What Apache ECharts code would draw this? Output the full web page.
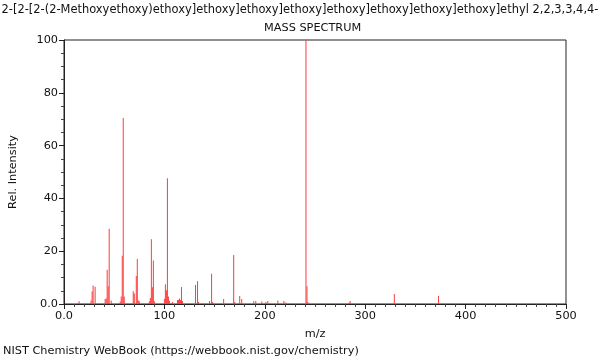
<!DOCTYPE html>
<html><head><meta charset="utf-8">
<script src="https://cdn.jsdelivr.net/npm/echarts@6/dist/echarts.min.js"></script>
<style>html,body{margin:0;padding:0;background:#fff}#c{width:600px;height:360px}</style>
</head><body><div id="c"></div>
<script>
const titleLine1 = "2-[2-[2-(2-Methoxyethoxy)ethoxy]ethoxy]ethoxy]ethoxy]ethoxy]ethoxy]ethoxy]ethoxy]ethyl 2,2,3,3,4,4-";
const titleLine2 = "MASS SPECTRUM";
const footer = "NIST Chemistry WebBook (https://webbook.nist.gov/chemistry)";
const xName = "m/z";
const yName = "Rel. Intensity";
const mz = [15,27,28,29,31,41,42,43,44,45,47,56,57,58,59,60,69,70,72,73,74,75,85,86,87,88,89,90,100,101,102,103,104,105,108,113,114,115,116,117,118,131,133,134,145,147,148,159,169,170,175,177,189,191,197,201,203,213,219,221,241,242,243,284,285,329,373];
const intensity = [1.0,1.3,4.7,7.0,6.5,1.9,2.1,13.0,6.7,28.5,1.3,0.9,2.8,18.3,70.5,2.8,4.8,4.0,10.6,17.0,1.3,1.0,1.0,2.3,24.5,6.3,16.5,1.0,2.0,7.5,5.2,47.6,2.8,1.2,0.8,1.5,1.5,2.1,1.5,6.4,1.1,7.2,8.6,0.8,1.1,11.5,0.8,1.9,18.6,0.8,3.0,1.9,1.0,1.1,0.9,0.8,1.1,1.3,1.1,0.6,100,6.7,0.8,0.5,1.1,3.8,3.0];
const xTicks = [0,100,200,300,400,500];
const yTicks = [0,20,40,60,80,100];

const data = mz.map((m,i)=>[m,intensity[i]]);
const font = 'DejaVu Sans';
const tStyle = {fontFamily:font,fontSize:11.3,fontWeight:'normal',color:'#111'};
const chart = echarts.init(document.getElementById('c'), null, {renderer:'canvas'});
chart.setOption({
  animation:false,
  backgroundColor:'#fff',
  title:[
    {text:titleLine1,left:'center',top:5,padding:0,textStyle:Object.assign({},tStyle,{fontSize:11.45})},
    {text:titleLine2,left:264,top:23,padding:0,textStyle:tStyle},
    {text:footer,left:3,top:346,padding:0,textStyle:tStyle}
  ],
  grid:{left:62,right:34,top:40,bottom:56,show:true,borderColor:'#222',borderWidth:1,backgroundColor:'transparent'},
  xAxis:{
    type:'value',min:xTicks[0],max:xTicks[xTicks.length-1],interval:100,
    name:xName,nameLocation:'middle',nameGap:25,
    nameTextStyle:{fontFamily:font,fontSize:11.3,color:'#111'},
    axisLine:{lineStyle:{color:'#222'}},
    axisTick:{show:true,length:5,lineStyle:{color:'#222'}},
    minorTick:{show:true,splitNumber:10,length:3,lineStyle:{color:'#444'}},
    splitLine:{show:false},
    axisLabel:{fontFamily:font,fontSize:11.3,color:'#111',margin:7,formatter:v=>v===0?'0.0':String(v)}
  },
  yAxis:{
    type:'value',min:yTicks[0],max:yTicks[yTicks.length-1],interval:20,
    name:yName,nameLocation:'middle',nameGap:45,nameRotate:90,
    nameTextStyle:{fontFamily:font,fontSize:11.3,color:'#111'},
    axisLine:{show:true,lineStyle:{color:'#222'}},
    axisTick:{show:true,length:5,lineStyle:{color:'#222'}},
    minorTick:{show:true,splitNumber:4,length:3,lineStyle:{color:'#444'}},
    splitLine:{show:false},
    axisLabel:{fontFamily:font,fontSize:11.3,color:'#111',margin:6,formatter:v=>v===0?'0.0':String(v)}
  },
  series:[{type:'bar',data:data,barWidth:1,itemStyle:{color:'#ff3c3c'},silent:true}]
});
</script></body></html>
